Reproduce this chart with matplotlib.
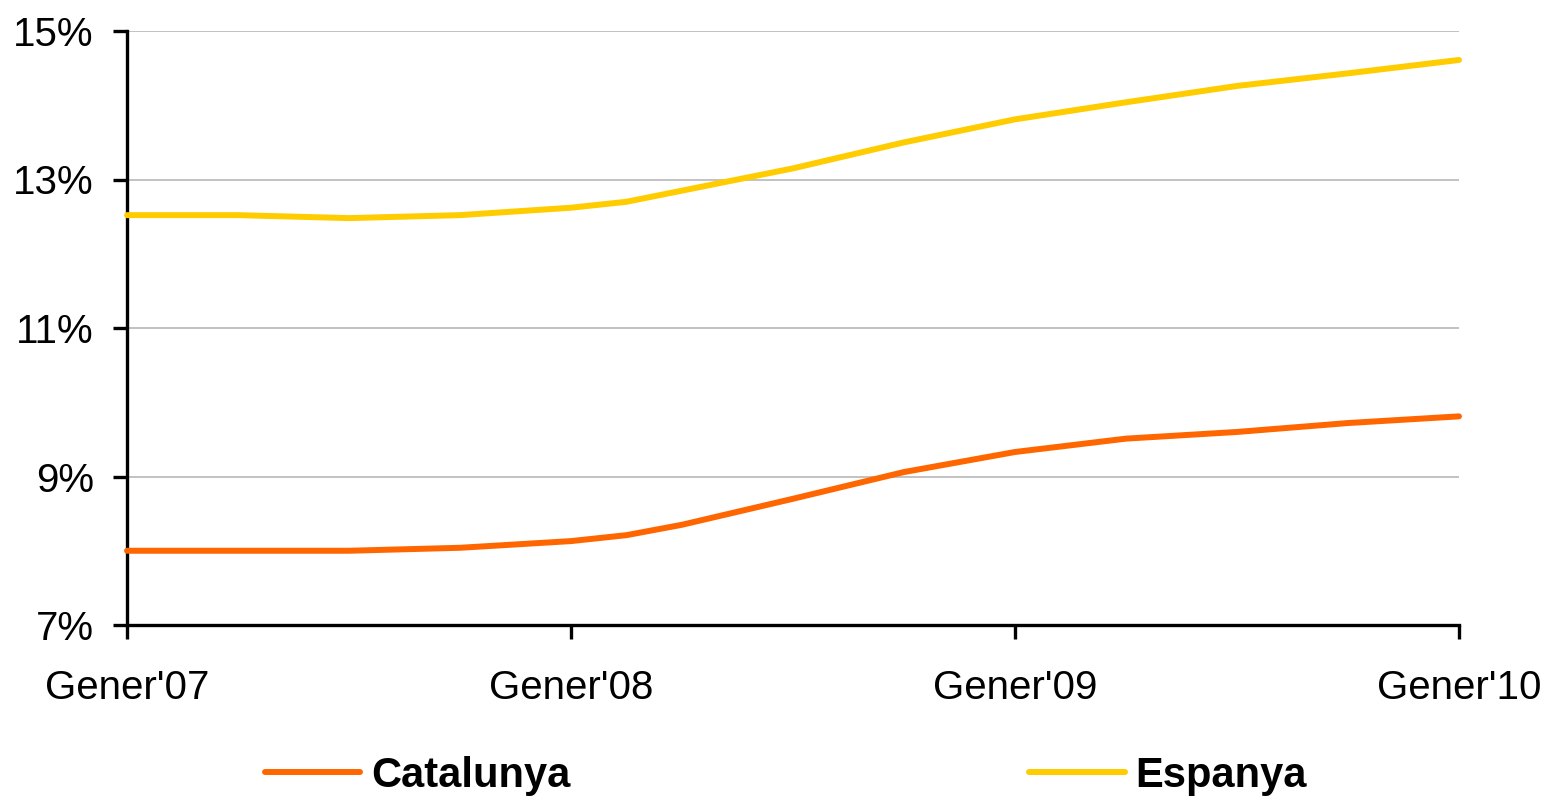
import matplotlib
matplotlib.use("Agg")
import matplotlib.pyplot as plt
from matplotlib.lines import Line2D

# months since Gener'07
months = [0, 3, 6, 9, 12, 13.5, 15, 18, 21, 24, 27, 30, 33, 36]
catalunya = [8.00, 8.00, 8.00, 8.04, 8.13, 8.21, 8.35, 8.70, 9.06, 9.33, 9.51, 9.60, 9.72, 9.81]
espanya = [12.52, 12.52, 12.48, 12.52, 12.62, 12.70, 12.85, 13.15, 13.50, 13.81, 14.04, 14.26, 14.43, 14.61]
xtick_pos = [0, 12, 24, 36]
xtick_labels = ["Gener'07", "Gener'08", "Gener'09", "Gener'10"]
yticks = [7, 9, 11, 13, 15]
series_names = ["Catalunya", "Espanya"]
colors = ["#FF6600", "#FFCC00"]

plt.rcParams['font.family'] = ['Liberation Sans', 'DejaVu Sans']

W, H = 1547, 798
fig = plt.figure(figsize=(W / 100, H / 100), dpi=100)
ax = fig.add_axes([127 / W, 1 - 625 / H, (1459 - 127) / W, (625 - 31) / H])

for y in yticks[1:]:
    ax.axhline(y, color="#BDBDBD", lw=1.3, zorder=1)

l1, = ax.plot(months, catalunya, color=colors[0], lw=4.3, solid_capstyle='round', zorder=3)
l2, = ax.plot(months, espanya, color=colors[1], lw=4.3, solid_capstyle='round', zorder=3)

ax.set_xlim(0, 36)
ax.set_ylim(7, 15)
ax.set_xticks(xtick_pos)
ax.set_xticklabels(xtick_labels)
ax.set_yticks(yticks)
ax.set_yticklabels([f"{v}%" for v in yticks])

for s in ["top", "right"]:
    ax.spines[s].set_visible(False)
for s in ["left", "bottom"]:
    ax.spines[s].set_linewidth(2.4)
    ax.spines[s].set_color("black")

ax.tick_params(axis='y', direction='out', length=10, width=2.4, labelsize=29, pad=14)
ax.tick_params(axis='x', direction='out', length=10, width=2.4, labelsize=29, pad=22)
for ln in (l1, l2):
    ln.set_clip_on(False)

handles = [Line2D([], [], color=colors[0], lw=4.3, solid_capstyle='round'),
           Line2D([], [], color=colors[1], lw=4.3, solid_capstyle='round')]
fig.legend(handles, series_names, loc='center', bbox_to_anchor=(0.508, 0.028),
           ncol=2, frameon=False, prop={'weight': 'bold', 'size': 30},
           handlelength=2.3, handletextpad=0.26, columnspacing=11.0,
           borderaxespad=0, borderpad=0)

fig.savefig("out.png", dpi=100, facecolor="white")
